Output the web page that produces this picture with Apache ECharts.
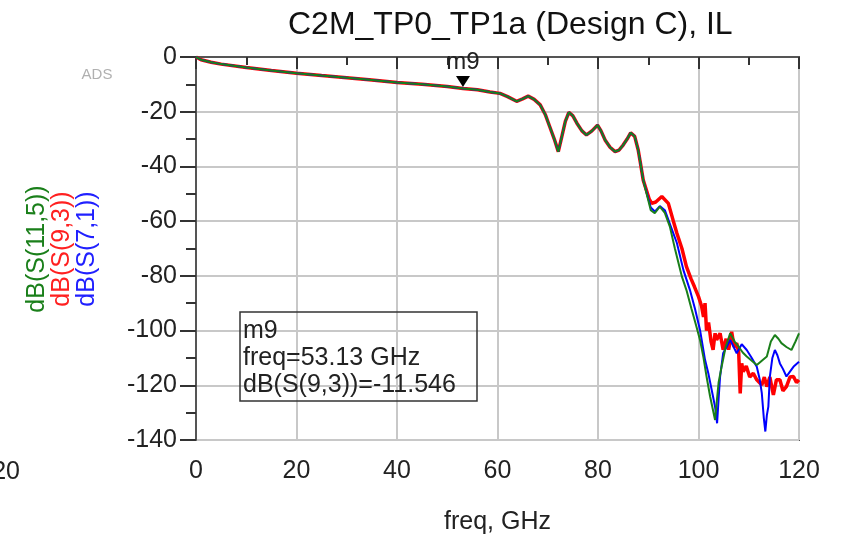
<!DOCTYPE html>
<html>
<head>
<meta charset="utf-8">
<script src="https://cdn.jsdelivr.net/npm/echarts@6/dist/echarts.min.js"></script>
<style>
  html, body { margin: 0; padding: 0; background: #ffffff; }
  #chart { width: 843px; height: 538px; }
</style>
</head>
<body>
<div id="chart"></div>
<script>
// shared part of the three traces (they sit on top of each other up to ~89 GHz)
const freqBase = [0, 1, 3, 5, 10, 15, 20, 25, 30, 35, 40, 45, 50, 53.13, 56, 58.5, 60.5, 62, 63.8, 65, 66.1, 67.3, 68.5, 69.5, 70.4, 71.3, 72.1, 72.8, 73.5, 74.2, 75, 75.8, 76.8, 77.7, 78.8, 79.9, 80.6, 81.4, 82.4, 83.4, 84.2, 85, 85.8, 86.5, 87.3, 88, 88.4, 89];
const dbBase = [0, -1, -1.9, -2.6, -3.8, -4.9, -5.9, -6.8, -7.6, -8.4, -9.3, -10, -10.8, -11.546, -12, -12.8, -13.3, -14.5, -16.2, -15.3, -14.3, -15.5, -17.5, -21, -25.5, -30, -34.6, -29.1, -23.5, -20.2, -21.5, -24.2, -27, -28.5, -27, -24.9, -27, -30.3, -33, -34.6, -34, -32.2, -30, -27.7, -29, -34, -38.3, -45];

// dB(S(9,3)) after 89 GHz
const redFreq = [90.2, 90.7, 91.5, 92.7, 94, 95, 95.7, 96.7, 97.6, 98.5, 99.2, 100, 100.6, 101, 101.3, 101.6, 102, 102.5, 102.9, 103.3, 103.6, 104.3, 104.9, 105.5, 106, 106.6, 107.1, 107.6, 108, 108.3, 108.6, 108.9, 109.5, 110.2, 110.9, 111.6, 112.6, 113.1, 113.6, 114.2, 114.9, 115.5, 116.2, 116.8, 117.5, 118.2, 118.9, 119.5, 120];
const redDb = [-52, -53.5, -53, -51, -53.5, -60, -64.4, -70, -76.6, -81, -84, -87.6, -91, -95, -90, -100, -97, -104, -107, -101, -103.4, -101, -107, -103, -107, -100.4, -106, -104.6, -108, -123, -112, -115, -113, -117, -115.6, -118, -119.9, -117, -120.5, -117, -123.5, -118, -118, -122, -120.5, -117, -116.8, -119, -118];

// dB(S(7,1)) after 89 GHz
const blueFreq = [90.5, 91.3, 92.3, 93.3, 94.5, 95.7, 97, 98.3, 99.3, 100.3, 101.3, 102, 102.9, 103.3, 103.7, 104, 104.3, 104.9, 105.6, 106.3, 107, 107.6, 108.6, 109.6, 110.6, 111.6, 112.2, 112.6, 113, 113.3, 113.6, 113.9, 114.2, 114.7, 115.2, 115.7, 116.2, 116.8, 117.5, 118.2, 119, 120];
const blueDb = [-55, -56.5, -54.5, -56, -62, -68, -77.9, -85.2, -92, -99.8, -110.7, -116, -124.2, -128, -133.9, -125, -116.8, -108.3, -106, -103.4, -106, -108.3, -105, -107.1, -110, -113.2, -118, -122.9, -132, -136.9, -131, -127.8, -116.8, -110, -107.1, -109, -112, -114, -116.8, -115, -113, -111.4];

// dB(S(11,5)) after 89 GHz
const greenFreq = [90.5, 91.3, 92.3, 93.3, 94.3, 95.3, 96.7, 97.6, 98.6, 99.5, 100.3, 101, 101.6, 102.3, 103.3, 103.6, 104, 104.6, 105.4, 106.3, 107.2, 108, 108.8, 109.6, 110.6, 111.6, 112.6, 113.6, 114.4, 115.2, 115.9, 116.5, 117.5, 118.5, 119.3, 120];
const greenDb = [-56, -57.1, -54.7, -57, -62, -70, -80.3, -85.2, -92, -98, -103.4, -110, -116.8, -124, -132.7, -126.6, -119, -113.2, -106, -101, -104, -105.9, -108, -109.5, -111, -112.6, -111, -109.5, -104, -101.6, -103, -104.6, -106, -107.1, -104, -101];

const xTicks = [0, 20, 40, 60, 80, 100, 120];
const yTicks = [0, -20, -40, -60, -80, -100, -120, -140];

const markerFreq = 53.13;
const markerDb = -11.546;

function pairs(fa, da, fb, db) {
    const out = [];
    for (let i = 0; i < fa.length; i++) out.push([fa[i], da[i]]);
    for (let i = 0; i < fb.length; i++) out.push([fb[i], db[i]]);
    return out;
}

const FONT = 'Liberation Sans, Arial, sans-serif';
const chart = echarts.init(document.getElementById('chart'));

const option = {
    animation: false,
    backgroundColor: '#ffffff',
    grid: {
        left: 196, right: 44, top: 57, bottom: 98,
        containLabel: false, outerBoundsMode: 'none',
        show: true, borderColor: '#555555', borderWidth: 2
    },
    xAxis: {
        type: 'value', min: xTicks[0], max: xTicks[xTicks.length - 1], interval: 20,
        name: 'freq, GHz', nameLocation: 'middle', nameGap: 70,
        nameTextStyle: { fontFamily: FONT, fontSize: 25, color: '#222' },
        axisLine: { lineStyle: { color: '#555555', width: 2 } },
        axisTick: { length: 12, lineStyle: { color: '#333', width: 2 } },
        minorTick: { show: true, splitNumber: 2, length: 8, lineStyle: { color: '#333', width: 2 } },
        splitLine: { show: true, lineStyle: { color: '#c8c8c8', width: 2 } },
        axisLabel: { fontFamily: FONT, fontSize: 25, color: '#222', margin: 19 }
    },
    yAxis: {
        type: 'value', min: yTicks[yTicks.length - 1], max: yTicks[0], interval: 20,
        axisLine: { show: true, lineStyle: { color: '#555555', width: 2 } },
        axisTick: { show: true, length: 16, lineStyle: { color: '#333', width: 2 } },
        minorTick: { show: true, splitNumber: 2, length: 10, lineStyle: { color: '#333', width: 2 } },
        splitLine: { show: true, lineStyle: { color: '#c8c8c8', width: 2 } },
        axisLabel: { fontFamily: FONT, fontSize: 25, color: '#222', margin: 19 }
    },
    series: [
        {
            name: 'dB(S(9,3))', type: 'line', showSymbol: false, z: 2,
            data: pairs(freqBase, dbBase, redFreq, redDb),
            lineStyle: { color: '#ff0000', width: 3.5 }, itemStyle: { color: '#ff0000' },
            markPoint: {
                data: [{
                    coord: [markerFreq, markerDb],
                    symbol: 'triangle', symbolRotate: 180, symbolSize: [14, 11], symbolOffset: [0, -7],
                    itemStyle: { color: '#000' },
                    label: { show: true, position: 'top', distance: 2, formatter: 'm9',
                        fontFamily: FONT, fontSize: 24, color: '#222' }
                }]
            }
        },
        {
            name: 'dB(S(7,1))', type: 'line', showSymbol: false, z: 3,
            data: pairs(freqBase, dbBase, blueFreq, blueDb),
            lineStyle: { color: '#0000ff', width: 2 }, itemStyle: { color: '#0000ff' }
        },
        {
            name: 'dB(S(11,5))', type: 'line', showSymbol: false, z: 4,
            data: pairs(freqBase, dbBase, greenFreq, greenDb),
            lineStyle: { color: '#1a7f1a', width: 2 }, itemStyle: { color: '#1a7f1a' }
        }
    ],
    graphic: [
        { type: 'text', left: 288, top: 9, style: { text: 'C2M_TP0_TP1a (Design C), IL',
            font: '32px ' + FONT, fill: '#111' } },
        { type: 'text', x: 97, y: 75, style: { text: 'ADS', font: '15px ' + FONT, fill: '#b0b0b0',
            textAlign: 'center', textVerticalAlign: 'middle' } },
        { type: 'text', x: 20, y: 472, style: { text: '120', font: '25px ' + FONT, fill: '#222',
            textAlign: 'right', textVerticalAlign: 'middle' } },
        { type: 'text', x: 37, y: 249, rotation: Math.PI / 2, style: { text: 'dB(S(11,5))', font: '25px ' + FONT,
            fill: '#1a7f1a', textAlign: 'center', textVerticalAlign: 'middle' } },
        { type: 'text', x: 62, y: 249, rotation: Math.PI / 2, style: { text: 'dB(S(9,3))', font: '25px ' + FONT,
            fill: '#ff2020', textAlign: 'center', textVerticalAlign: 'middle' } },
        { type: 'text', x: 87, y: 249, rotation: Math.PI / 2, style: { text: 'dB(S(7,1))', font: '25px ' + FONT,
            fill: '#2020ff', textAlign: 'center', textVerticalAlign: 'middle' } },
        { type: 'rect', shape: { x: 240, y: 312, width: 237, height: 89 }, z: 10,
            style: { fill: 'transparent', stroke: '#333', lineWidth: 1.5 } },
        { type: 'text', x: 243, y: 318, z: 10, style: { text: 'm9\nfreq=53.13 GHz\ndB(S(9,3))=-11.546',
            font: '25px ' + FONT, lineHeight: 26.7, fill: '#222' } }
    ]
};
chart.setOption(option);
</script>
</body>
</html>
